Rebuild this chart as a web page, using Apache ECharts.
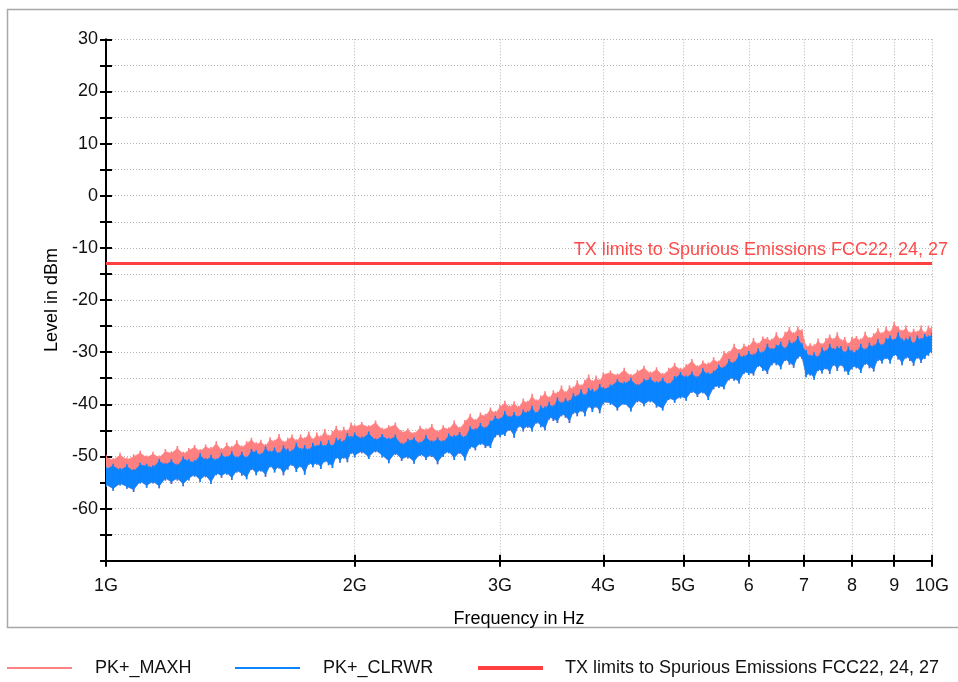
<!DOCTYPE html>
<html><head><meta charset="utf-8">
<script src="https://cdn.jsdelivr.net/npm/echarts@6/dist/echarts.min.js"></script>
<style>html,body{margin:0;padding:0;background:#fff}#c{width:958px;height:682px}</style>
</head><body><div id="c"></div>
<script>
const freqGHz = [1.00,1.02,1.04,1.06,1.08,1.10,1.12,1.14,1.16,1.18,1.20,1.22,1.24,1.26,1.28,1.30,1.32,1.34,1.36,1.38,1.40,1.42,1.44,1.46,1.48,1.50,1.52,1.54,1.56,1.58,1.60,1.62,1.64,1.66,1.68,1.70,1.72,1.74,1.76,1.78,1.80,1.82,1.84,1.86,1.88,1.90,1.92,1.94,1.96,1.98,2.00,
2.04,2.08,2.12,2.16,2.20,2.24,2.28,2.32,2.36,2.40,2.44,2.48,2.52,2.56,2.60,2.64,2.68,2.72,2.76,2.80,2.84,2.88,2.92,2.96,3.00,3.04,3.08,3.12,3.16,3.20,3.24,3.28,3.32,3.36,3.40,3.44,3.48,3.52,3.56,3.60,3.64,3.68,3.72,3.76,3.80,3.84,3.88,3.92,3.96,4.00,
4.08,4.16,4.24,4.32,4.40,4.48,4.56,4.64,4.72,4.80,4.88,4.96,5.04,5.12,5.20,5.28,5.36,5.44,5.52,5.60,5.68,5.76,5.84,5.92,6.00,6.08,6.16,6.24,6.32,6.40,6.48,6.56,6.64,6.72,6.80,6.88,6.96,7.04,7.12,7.20,7.28,7.36,7.44,7.52,7.60,7.68,7.76,7.84,7.92,8.00,
8.1,8.2,8.3,8.4,8.5,8.6,8.7,8.8,8.9,9.0,9.1,9.2,9.3,9.4,9.5,9.6,9.7,9.8,9.9,10.0];

const maxhPeak = [-49.7,-50.3,-49.3,-50.2,-49.6,-48.9,-49.8,-49.1,-49.8,-48.6,-49.0,-48.0,-49.1,-48.4,-47.8,-48.6,-47.7,-48.2,-47.1,-48.4,-47.4,-48.0,-46.9,-47.9,-47.1,-46.4,-47.3,-46.8,-47.6,-46.3,-46.8,-45.7,-47.0,-46.4,-45.8,-46.7,-45.8,-46.3,-45.2,-46.5,-45.4,-46.0,-44.7,-45.9,-45.1,-44.1,-45.0,-44.3,-44.9,-43.5,-43.9,
-43.4,-44.0,-43.1,-44.5,-44.0,-43.5,-45.0,-44.6,-45.3,-44.1,-44.6,-43.8,-45.0,-44.0,-44.4,-43.1,-44.3,-43.0,-41.8,-42.8,-41.6,-41.8,-40.6,-41.3,-40.1,-39.3,-40.2,-39.4,-40.3,-38.9,-39.3,-38.0,-39.1,-38.3,-37.5,-38.5,-37.3,-37.6,-36.4,-37.5,-36.4,-36.6,-35.4,-36.2,-35.3,-34.3,-35.4,-34.5,-35.2,-33.9,
-33.5,-34.1,-33.0,-34.2,-33.4,-32.6,-33.7,-32.9,-34.0,-33.0,-32.1,-33.0,-32.3,-31.3,-32.5,-31.6,-32.0,-31.0,-31.6,-29.8,-29.8,-28.4,-29.4,-28.4,-28.6,-27.3,-28.2,-27.0,-27.1,-27.4,-26.2,-27.3,-26.1,-25.2,-26.2,-25.1,-25.6,-28.6,-28.3,-28.5,-27.4,-28.3,-27.3,-26.6,-27.3,-26.2,-27.5,-27.1,-28.2,-27.1,
-26.9,-27.4,-26.1,-27.1,-26.4,-25.4,-26.2,-25.1,-25.9,-24.2,-25.0,-25.7,-24.9,-26.1,-25.5,-25.9,-24.9,-26.1,-24.9,-25.1];

const clrwrPeak = [-52.0,-51.4,-52.2,-51.5,-52.4,-51.2,-51.4,-51.7,-50.5,-51.2,-50.5,-51.4,-50.0,-50.5,-50.7,-49.4,-50.3,-49.7,-50.4,-49.3,-49.9,-49.0,-50.0,-49.1,-50.0,-48.6,-48.8,-49.4,-48.1,-48.9,-48.3,-49.2,-47.9,-48.5,-48.7,-47.4,-48.4,-47.8,-48.5,-47.4,-47.8,-47.1,-47.8,-46.9,-47.8,-46.4,-46.6,-46.9,-45.5,-46.1,-45.4,
-46.2,-45.2,-46.5,-45.7,-46.4,-45.8,-47.4,-46.6,-46.3,-47.2,-45.9,-46.9,-46.3,-46.9,-45.6,-45.9,-45.3,-46.1,-44.2,-44.6,-43.6,-44.3,-43.1,-42.2,-42.6,-41.3,-42.2,-41.5,-42.2,-41.0,-41.3,-40.3,-41.5,-40.2,-40.4,-39.5,-40.2,-38.7,-39.5,-38.8,-39.2,-37.9,-38.2,-37.1,-38.1,-36.9,-37.0,-37.3,-36.1,-36.7,
-36.2,-35.2,-35.7,-34.9,-36.1,-35.1,-34.8,-35.6,-34.9,-35.9,-34.6,-33.8,-34.5,-33.7,-34.6,-33.1,-33.9,-33.5,-32.4,-32.7,-31.3,-31.8,-30.2,-30.6,-29.8,-30.3,-29.3,-29.9,-28.4,-29.2,-28.6,-28.0,-29.1,-27.7,-28.0,-26.9,-28.3,-29.6,-30.5,-30.0,-30.7,-29.1,-29.6,-28.4,-29.2,-28.8,-28.8,-29.9,-28.9,-29.6,
-29.6,-28.4,-29.3,-28.2,-28.6,-27.5,-28.5,-27.3,-26.8,-27.5,-26.2,-27.4,-27.3,-27.0,-28.1,-26.8,-27.3,-26.5,-26.8,-26.2];

const clrwrFloor = [-55.8,-56.6,-55.6,-56.2,-56.8,-55.2,-56.0,-55.2,-56.1,-54.6,-55.3,-54.6,-55.7,-54.6,-53.9,-54.9,-54.0,-55.3,-53.6,-54.1,-53.5,-54.5,-53.1,-53.7,-54.4,-52.6,-53.6,-52.9,-53.9,-52.1,-53.1,-52.3,-53.6,-52.5,-51.8,-53.0,-52.1,-53.5,-51.6,-52.1,-51.6,-52.4,-51.1,-51.7,-52.2,-50.4,-51.2,-50.4,-51.1,-49.5,-50.2,
-49.4,-50.5,-49.2,-50.2,-51.3,-49.7,-50.9,-50.4,-51.4,-49.9,-50.7,-50.1,-51.5,-50.1,-49.4,-50.7,-49.5,-50.8,-48.5,-48.8,-47.8,-48.4,-48.4,-46.3,-46.3,-46.1,-45.1,-46.4,-44.4,-45.2,-44.5,-45.2,-43.7,-44.4,-45.0,-42.9,-43.2,-43.6,-42.3,-42.6,-43.6,-41.8,-42.3,-41.4,-42.3,-40.6,-41.5,-40.6,-41.7,-40.0,
-40.1,-41.2,-40.1,-41.4,-39.6,-40.4,-39.6,-40.6,-41.2,-39.2,-39.7,-38.9,-39.3,-37.8,-38.6,-37.9,-39.2,-37.1,-36.9,-37.1,-35.4,-35.5,-36.0,-34.2,-34.4,-34.5,-32.8,-33.6,-34.2,-32.5,-32.5,-33.3,-31.7,-32.4,-33.0,-31.2,-31.3,-34.8,-34.5,-35.3,-33.6,-34.1,-33.3,-34.2,-32.6,-33.6,-32.6,-33.7,-34.4,-33.3,
-33.1,-34.0,-32.4,-33.1,-33.7,-31.7,-32.2,-31.3,-32.2,-30.7,-31.4,-32.5,-31.2,-31.7,-32.6,-31.2,-32.1,-31.3,-30.7,-30.2];

const limitLevel = -13;
const limitFreqs = [1, 10];
const xTickValues = [1, 2, 3, 4, 5, 6, 7, 8, 9, 10];
const xTickLabels = ['1G', '2G', '3G', '4G', '5G', '6', '7', '8', '9', '10G'];
const seriesNames = ['PK+_MAXH', 'PK+_CLRWR', 'TX limits to Spurious Emissions FCC22, 24, 27'];
const seriesColors = ['#ff8080', '#0a84ff', '#ff4040'];

const FONT = "'Liberation Sans', Arial, sans-serif";
const chart = echarts.init(document.getElementById('c'), null, {renderer: 'canvas'});

// body of the trace between neighbouring sweep points, plus a thin spike at each sweep point
const SPIKE_DB = 0.45;
function bandRenderer(top, bottom, color) {
  return function (params, api) {
    const i = params.dataIndex;
    const children = [];
    const a = api.coord([freqGHz[i], top[i]]);
    const b = api.coord([freqGHz[i], bottom[i]]);
    children.push({type: 'rect', shape: {x: a[0] - 0.8, y: a[1], width: 1.6, height: b[1] - a[1]},
      style: {fill: color}});
    if (i < freqGHz.length - 1) {
      const pts = [
        api.coord([freqGHz[i], top[i] - SPIKE_DB]),
        api.coord([freqGHz[i + 1], top[i + 1] - SPIKE_DB]),
        api.coord([freqGHz[i + 1], bottom[i + 1] + SPIKE_DB]),
        api.coord([freqGHz[i], bottom[i] + SPIKE_DB])
      ];
      children.push({type: 'polygon', shape: {points: pts}, style: {fill: color, stroke: color, lineWidth: 0.6}});
    }
    return {type: 'group', children: children};
  };
}

const gridLine = {show: true, lineStyle: {type: [1, 2], color: '#b5b5b5', width: 1}};
const blackTick = {color: '#000', width: 2};
const labelStyle = {fontFamily: FONT, fontSize: 18, color: '#111'};

function xAxisBase(extra) {
  return Object.assign({
    type: 'log', logBase: 10, min: 1, max: 10, position: 'bottom', gridIndex: 0
  }, extra);
}

const option = {
  animation: false,
  backgroundColor: '#fff',
  grid: {left: 106, right: 26, top: 39.3, bottom: 121.3, containLabel: false, outerBoundsMode: 'none'},
  graphic: [{
    type: 'rect', silent: true, z: -10,
    shape: {x: 7.5, y: 9.5, width: 1000, height: 618},
    style: {fill: null, stroke: '#a8a8a8', lineWidth: 1.5}
  }],
  xAxis: [
    xAxisBase({
      name: 'Frequency in Hz', nameLocation: 'middle', nameGap: 49,
      nameTextStyle: {fontFamily: FONT, fontSize: 18, color: '#000'},
      axisLine: {show: true, onZero: false, lineStyle: {color: '#000', width: 2}},
      axisTick: {show: true, length: 6, customValues: xTickValues, lineStyle: blackTick},
      axisLabel: Object.assign({
        customValues: xTickValues, margin: 16,
        formatter: function (v) { const k = xTickValues.indexOf(Math.round(v)); return k >= 0 ? xTickLabels[k] : ''; }
      }, labelStyle),
      splitLine: gridLine,
      minorTick: {show: false}, minorSplitLine: {show: false}
    }),
    xAxisBase({
      axisLine: {show: false, onZero: false},
      axisTick: {show: true, inside: true, length: 6, customValues: xTickValues, lineStyle: blackTick},
      axisLabel: {show: false},
      splitLine: {show: false}
    })
  ],
  yAxis: [
    {
      type: 'value', min: -70, max: 30, interval: 5, position: 'left',
      name: 'Level in dBm', nameLocation: 'middle', nameRotate: 90, nameGap: 45,
      nameTextStyle: {fontFamily: FONT, fontSize: 18, color: '#000'},
      axisLine: {show: true, onZero: false, lineStyle: {color: '#000', width: 2}},
      axisTick: {show: true, length: 6, lineStyle: blackTick},
      axisLabel: Object.assign({
        margin: 8,
        formatter: function (v) { return (v % 10 === 0 && v > -70) ? String(v) : ''; }
      }, labelStyle),
      splitLine: gridLine
    },
    {
      type: 'value', min: -70, max: 30, interval: 5, position: 'left',
      axisLine: {show: false, onZero: false},
      axisTick: {show: true, inside: true, length: 6, lineStyle: blackTick},
      axisLabel: {show: false},
      splitLine: {show: false}
    }
  ],
  legend: [
    {data: [{name: seriesNames[0], icon: 'rect'}], left: 7, top: 659, padding: 0, itemWidth: 65, itemHeight: 2, selectedMode: false,
      textStyle: {fontFamily: FONT, fontSize: 18, color: '#111', padding: [0, 0, 0, 18]}},
    {data: [{name: seriesNames[1], icon: 'rect'}], left: 235, top: 659, padding: 0, itemWidth: 65, itemHeight: 2, selectedMode: false,
      textStyle: {fontFamily: FONT, fontSize: 18, color: '#111', padding: [0, 0, 0, 18]}},
    {data: [{name: seriesNames[2], icon: 'rect'}], left: 478, top: 659, padding: 0, itemWidth: 65, itemHeight: 4, selectedMode: false,
      textStyle: {fontFamily: FONT, fontSize: 18, color: '#111', padding: [0, 0, 0, 17]}}
  ],
  series: [
    {
      name: seriesNames[0], type: 'custom', xAxisIndex: 0, yAxisIndex: 0, clip: true,
      itemStyle: {color: seriesColors[0]},
      encode: {x: 0, y: [1, 2]},
      data: freqGHz.map(function (f, i) { return [f, maxhPeak[i], clrwrFloor[i]]; }),
      renderItem: bandRenderer(maxhPeak, clrwrFloor, seriesColors[0]), z: 2
    },
    {
      name: seriesNames[1], type: 'custom', xAxisIndex: 0, yAxisIndex: 0, clip: true,
      itemStyle: {color: seriesColors[1]},
      encode: {x: 0, y: [1, 2]},
      data: freqGHz.map(function (f, i) { return [f, clrwrPeak[i], clrwrFloor[i]]; }),
      renderItem: bandRenderer(clrwrPeak, clrwrFloor, seriesColors[1]), z: 3
    },
    {
      name: seriesNames[2], type: 'line', xAxisIndex: 0, yAxisIndex: 0,
      symbol: 'circle', symbolSize: 0.1, showSymbol: true, color: seriesColors[2],
      itemStyle: {color: seriesColors[2]},
      lineStyle: {color: seriesColors[2], width: 3},
      data: [
        [limitFreqs[0], limitLevel],
        {value: [limitFreqs[1], limitLevel], label: {
          show: true, position: 'top', distance: 4, align: 'right', offset: [16, 0],
          formatter: seriesNames[2], fontFamily: FONT, fontSize: 18, color: '#ff4a4a'
        }}
      ],
      z: 4
    }
  ]
};
chart.setOption(option);
</script>
</body></html>
